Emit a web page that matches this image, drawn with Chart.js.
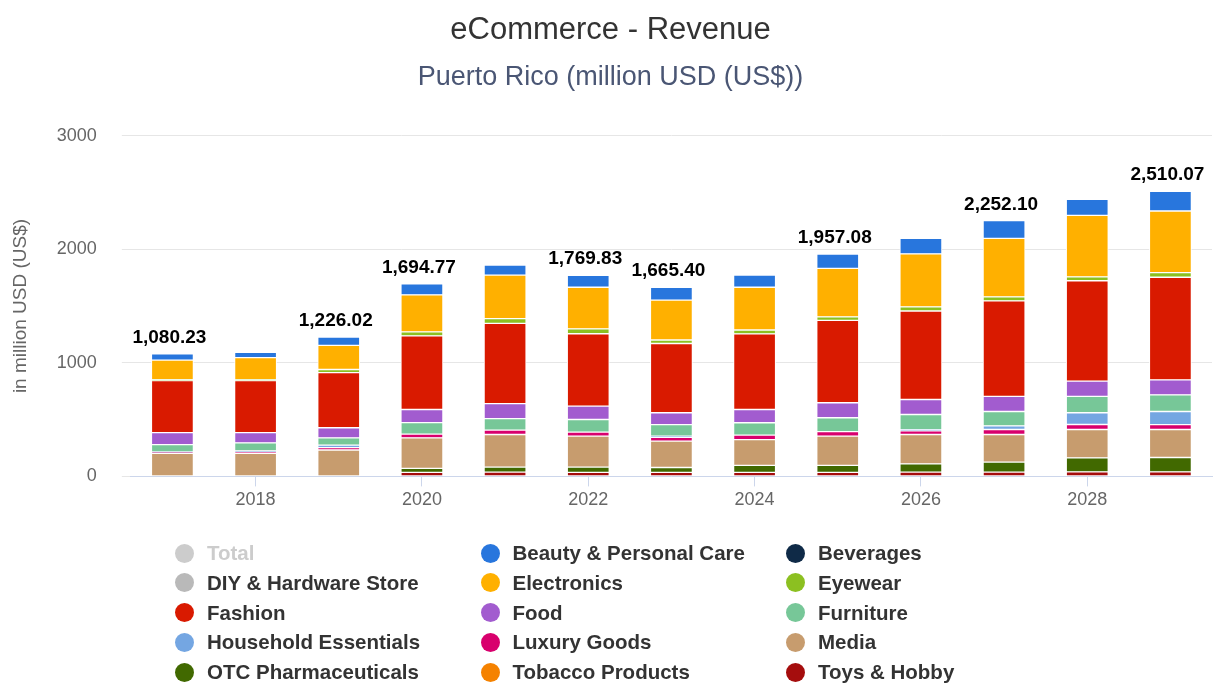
<!DOCTYPE html>
<html>
<head>
<meta charset="utf-8">
<title>eCommerce - Revenue</title>
<script src="https://cdn.jsdelivr.net/npm/chart.js@4.4.1/dist/chart.umd.min.js"></script>
<style>
    html, body { margin: 0; padding: 0; background: #fff; }
    #wrap { position: relative; width: 1213px; height: 684px; }
    #legend { position: absolute; left: 0; top: 0; width: 0; height: 0; }
    .item {
        position: absolute; height: 22px; display: flex; align-items: center;
        font: bold 20.5px "Liberation Sans", Arial, sans-serif; color: #333;
        white-space: nowrap; cursor: pointer; user-select: none;
    }
    .dot { width: 19px; height: 19px; border-radius: 50%; margin-right: 13px; flex: none; }
    .item.off { color: #ccc; }
    .item.off .dot { background: #ccc !important; }
</style>
</head>
<body>
<div id="wrap">
    <canvas id="chart"></canvas>
    <div id="legend"></div>
</div>
<script>
const years = ['2017', '2018', '2019', '2020', '2021', '2022', '2023', '2024', '2025', '2026', '2027', '2028', '2029'];
const totals = [1080.23, 1093, 1226.02, 1694.77, 1860, 1769.83, 1665.40, 1772, 1957.08, 2096, 2252.10, 2439, 2510.07];
const labelledYears = ['2017', '2019', '2020', '2022', '2023', '2025', '2027', '2029'];

// segments per market, million USD
const beauty      = [56, 48, 73, 97, 88, 105, 113, 107, 126, 137, 157, 141, 174];
const beverages   = [null, null, null, null, null, null, null, null, null, null, null, null, null];
const diy         = [null, null, null, null, null, null, null, null, null, null, null, null, null];
const electronics = [173, 193, 212, 326, 383, 366, 351, 376, 427, 467, 515, 542, 542];
const eyewear     = [8, 8, 28, 35, 42, 43, 31, 35, 30, 36, 35, 34, 41];
const fashion     = [458, 458, 485, 648, 706, 637, 610, 665, 726, 779, 841, 883, 904];
const food        = [105, 91, 89, 115, 132, 118, 104, 117, 132, 132, 133, 135, 131];
const furniture   = [64, 70, 64, 102, 101, 111, 102, 108, 122, 133, 126, 144, 147];
const household   = [6, 12, 21, null, null, null, 10, null, null, 10, 32, 103, 115];
const luxury      = [7, 10, 22, 33, 39, 36, 34, 40, 40, 33, 44, 44, 43];
const media       = [203, 203, 232, 269, 287, 273, 232, 227, 257, 259, 243, 250, 247];
const otc         = [null, null, null, 35, 44, 46, 43, 62, 62, 73, 88, 123, 126];
const tobacco     = [null, null, null, null, null, null, null, null, null, null, null, null, null];
const toys        = [null, null, null, 35, 38, 35, 35, 35, 35, 37, 38, 40, 40];

const FONT = '"Liberation Sans", Arial, Helvetica, sans-serif';
Chart.defaults.font.family = FONT;

// legend order; first entries end up on top of the stack
const series = [
    { label: 'Total', data: totals, color: '#cccccc', hidden: true },
    { label: 'Beauty & Personal Care', data: beauty, color: '#2876dd' },
    { label: 'Beverages', data: beverages, color: '#0f2a47' },
    { label: 'DIY & Hardware Store', data: diy, color: '#b9b9b9' },
    { label: 'Electronics', data: electronics, color: '#ffb000' },
    { label: 'Eyewear', data: eyewear, color: '#8cc021' },
    { label: 'Fashion', data: fashion, color: '#d91a00' },
    { label: 'Food', data: food, color: '#a25ccf' },
    { label: 'Furniture', data: furniture, color: '#77c798' },
    { label: 'Household Essentials', data: household, color: '#74a6e2' },
    { label: 'Luxury Goods', data: luxury, color: '#d8006d' },
    { label: 'Media', data: media, color: '#c79c6e' },
    { label: 'OTC Pharmaceuticals', data: otc, color: '#416900' },
    { label: 'Tobacco Products', data: tobacco, color: '#f58200' },
    { label: 'Toys & Hobby', data: toys, color: '#a50d0d' }
];

const totalLabels = {
    id: 'totalLabels',
    afterDatasetsDraw(chart) {
        const { ctx, scales: { x, y } } = chart;
        ctx.save();
        ctx.font = 'bold 19px ' + FONT;
        ctx.fillStyle = '#000';
        ctx.textAlign = 'center';
        ctx.textBaseline = 'alphabetic';
        years.forEach((yr, i) => {
            if (!labelledYears.includes(yr)) return;
            const txt = totals[i].toLocaleString('en-US', { minimumFractionDigits: 2, maximumFractionDigits: 2 });
            ctx.fillText(txt, x.getPixelForValue(i) - 3, y.getPixelForValue(totals[i]) - 11);
        });
        ctx.restore();
    }
};

const chart = new Chart(document.getElementById('chart'), {
    type: 'bar',
    data: {
        labels: years,
        datasets: series.map((s, i) => ({
            label: s.label,
            data: s.data,
            hidden: !!s.hidden,
            order: series.length - i,
            backgroundColor: s.color,
            borderColor: '#ffffff',
            borderWidth: 1,
            borderSkipped: false,
            barThickness: 42
        }))
    },
    options: {
        responsive: true,
        maintainAspectRatio: false,
        animation: false,
        layout: { padding: { left: 9, right: 1, bottom: 170 } },
        plugins: {
            legend: { display: false },
            title: {
                display: true,
                text: 'eCommerce - Revenue',
                color: '#333',
                font: { size: 31, weight: 'normal' },
                padding: { top: 12, bottom: 0 }
            },
            subtitle: {
                display: true,
                text: 'Puerto Rico (million USD (US$))',
                color: '#4a5674',
                font: { size: 27, weight: 'normal' },
                padding: { top: 12, bottom: 42 }
            },
            tooltip: { mode: 'index', intersect: false }
        },
        scales: {
            x: {
                stacked: true,
                border: { color: '#ccd6eb' },
                grid: {
                    offset: false,
                    drawOnChartArea: false,
                    tickLength: 10,
                    color: ctx => (ctx.index % 2 === 1 ? '#ccd6eb' : 'rgba(0,0,0,0)')
                },
                ticks: {
                    autoSkip: false,
                    maxRotation: 0,
                    padding: 3,
                    color: '#666',
                    font: { size: 18 },
                    callback: (v, i) => (i % 2 === 1 ? years[i] : '')
                }
            },
            y: {
                stacked: true,
                min: 0,
                max: 3000,
                border: { display: false },
                grid: { color: '#e6e6e6', tickLength: 9 },
                ticks: {
                    stepSize: 1000,
                    padding: 25,
                    color: '#666',
                    font: { size: 18 },
                    callback: v => String(v)
                },
                title: {
                    display: true,
                    text: 'in million USD (US$)',
                    color: '#666',
                    font: { size: 19 },
                    padding: { top: 0, bottom: 0 }
                }
            }
        }
    },
    plugins: [totalLabels]
});

// three-column legend under the plot
const legendBox = document.getElementById('legend');
series.forEach((s, i) => {
    const item = document.createElement('div');
    item.className = 'item' + (s.hidden ? ' off' : '');
    item.style.left = (175 + (i % 3) * 305.5) + 'px';
    item.style.top = (542 + Math.floor(i / 3) * 29.8) + 'px';
    item.innerHTML = '<span class="dot" style="background:' + s.color + '"></span>' + s.label;
    item.addEventListener('click', () => {
        const visible = chart.isDatasetVisible(i);
        chart.setDatasetVisibility(i, !visible);
        item.classList.toggle('off', visible);
        chart.update();
    });
    legendBox.appendChild(item);
});
</script>
</body>
</html>
